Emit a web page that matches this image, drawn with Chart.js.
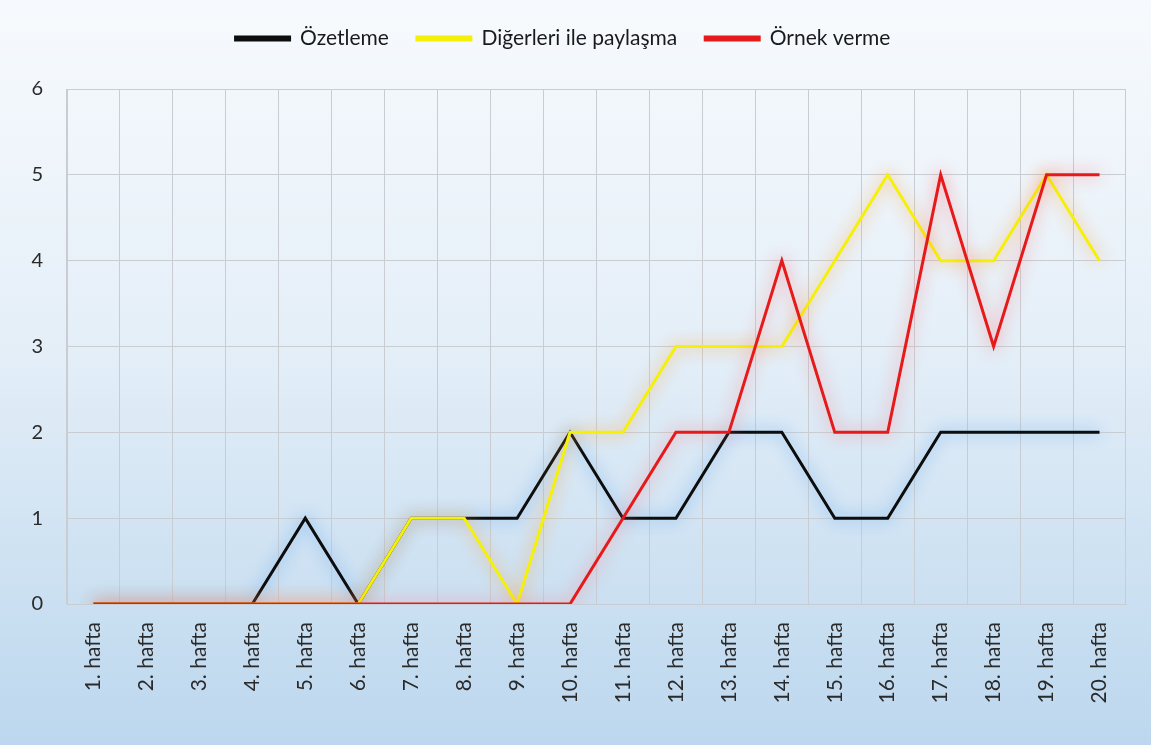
<!DOCTYPE html>
<html>
<head>
<meta charset="utf-8">
<script src="https://cdn.jsdelivr.net/npm/chart.js@4"></script>
<style>
html,body{margin:0;padding:0;background:#fff;}
#wrap{width:1151px;height:745px;position:relative;}
</style>
</head>
<body>
<div id="wrap"><canvas id="c" width="1151" height="745"></canvas></div>
<script>
const categories = ["1. hafta","2. hafta","3. hafta","4. hafta","5. hafta","6. hafta","7. hafta","8. hafta","9. hafta","10. hafta","11. hafta","12. hafta","13. hafta","14. hafta","15. hafta","16. hafta","17. hafta","18. hafta","19. hafta","20. hafta"];
const ozetleme = [0,0,0,0,1,0,1,1,1,2,1,1,2,2,1,1,2,2,2,2];
const digerleri = [0,0,0,0,0,0,1,1,0,2,2,3,3,3,4,5,4,4,5,4];
const ornek = [0,0,0,0,0,0,0,0,0,0,1,2,2,4,2,2,5,3,5,5];
const seriesNames = ["Özetleme","Diğerleri ile paylaşma","Örnek verme"];
const yTicks = [0,1,2,3,4,5,6];

const bgPlugin = {
  id:'bg',
  beforeDraw(chart){
    const {ctx,width,height} = chart;
    const g = ctx.createLinearGradient(0,0,0,height);
    g.addColorStop(0,'#f7fafd');
    g.addColorStop(0.45,'#e5eff8');
    g.addColorStop(1,'#bcd7ee');
    ctx.save();
    ctx.fillStyle = g;
    ctx.fillRect(0,0,width,height);
    ctx.restore();
  }
};
const glowPlugin = {
  id:'glow',
  beforeDatasetDraw(chart,args){
    const ds = chart.data.datasets[args.index];
    chart.ctx.save();
    chart.ctx.shadowColor = ds.glowColor;
    chart.ctx.shadowBlur = 16;
  },
  afterDatasetDraw(chart){
    chart.ctx.restore();
  }
};
const legendHeightPlugin = {
  id:'legendHeight',
  beforeLayout(chart){
    const lg = chart.legend;
    if (lg && !lg._patched){
      const fit = lg.fit;
      lg.fit = function(){ fit.call(this); this.height = 89; };
      lg._patched = true;
    }
  }
};

new Chart(document.getElementById('c'), {
  type:'line',
  data:{
    labels:categories,
    datasets:[
      {label:seriesNames[0], data:ozetleme, borderColor:'#0d0d0d', backgroundColor:'#0d0d0d', glowColor:'rgba(95,165,235,1)', borderWidth:3, pointRadius:0, tension:0, order:3},
      {label:seriesNames[1], data:digerleri, borderColor:'#f5f00a', backgroundColor:'#f5f00a', glowColor:'rgba(255,160,50,0.95)', borderWidth:3, pointRadius:0, tension:0, order:2},
      {label:seriesNames[2], data:ornek, borderColor:'#e61a1a', backgroundColor:'#e61a1a', glowColor:'rgba(255,110,110,0.85)', borderWidth:3, pointRadius:0, tension:0, order:1}
    ]
  },
  options:{
    responsive:false,
    animation:false,
    layout:{padding:{top:0,left:0,right:25,bottom:0}},
    plugins:{
      legend:{
        display:true,
        position:'top',
        labels:{
          boxWidth:54, boxHeight:3, padding:28,
          color:'#1a1a1a',
          font:{family:'Lato', size:21},
          sort:(a,b)=>a.datasetIndex-b.datasetIndex
        }
      },
      tooltip:{enabled:false}
    },
    scales:{
      x:{
        offset:true,
        grid:{offset:true, color:'#c9cdd2', lineWidth:1, drawTicks:false},
        border:{color:'#c9cdd2'},
        ticks:{minRotation:90, maxRotation:90, padding:18, color:'#2a2a2a', font:{family:'Lato', size:21}, autoSkip:false},
        afterFit(s){ s.height = 141; }
      },
      y:{
        min:0, max:6,
        grid:{color:'#c9cdd2', lineWidth:1, drawTicks:false},
        border:{color:'#c9cdd2'},
        ticks:{stepSize:1, padding:24, color:'#2a2a2a', font:{family:'Lato', size:20},
          callback:(v)=> yTicks.includes(v) ? String(v) : null},
        afterFit(s){ s.width = 67; }
      }
    }
  },
  plugins:[bgPlugin, glowPlugin, legendHeightPlugin]
});
</script>
</body>
</html>
